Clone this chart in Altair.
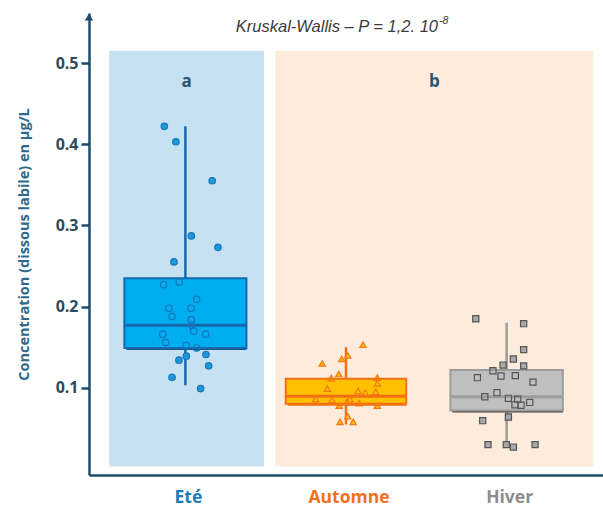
import altair as alt
import pandas as pd

# Seasons (one box per season) and the letters of the Kruskal-Wallis groups
saisons = ["Eté", "Automne", "Hiver"]
groupes = ["a", "b"]
groupe_saisons = [["Eté"], ["Automne", "Hiver"]]

# Individual measurements (µg/L) and their horizontal jitter (in category units)
ete_valeurs = [0.422, 0.403, 0.355, 0.287, 0.273, 0.255, 0.227, 0.230, 0.209, 0.198,
               0.198, 0.188, 0.184, 0.177, 0.170, 0.166, 0.166, 0.156, 0.152, 0.149,
               0.141, 0.134, 0.139, 0.127, 0.113, 0.099]
ete_jitter = [-0.131, -0.059, 0.167, 0.037, 0.203, -0.071, -0.135, -0.038, 0.070, -0.102,
              0.035, -0.083, 0.037, 0.039, 0.052, -0.141, 0.126, -0.123, 0.006, 0.070,
              0.128, -0.040, 0.006, 0.145, -0.083, 0.095]

automne_valeurs = [0.153, 0.140, 0.1355, 0.130, 0.117, 0.112, 0.1125, 0.1055, 0.099, 0.096,
                   0.094, 0.095, 0.086, 0.085, 0.086, 0.082, 0.081, 0.078, 0.078, 0.065,
                   0.058, 0.058]
automne_jitter = [0.106, 0.011, -0.027, -0.148, -0.045, -0.092, 0.195, 0.195, -0.116, 0.075,
                  0.120, 0.185, -0.189, -0.087, 0.025, 0.004, 0.081, -0.042, 0.195, 0.011,
                  -0.037, 0.045]

hiver_valeurs = [0.185, 0.179, 0.147, 0.1355, 0.128, 0.127, 0.121, 0.1145, 0.115, 0.1125,
                 0.107, 0.094, 0.089, 0.087, 0.086, 0.082, 0.079, 0.0785, 0.064, 0.0595,
                 0.030, 0.030, 0.027, 0.030]
hiver_jitter = [-0.192, 0.106, 0.106, 0.042, -0.022, 0.106, -0.085, -0.035, 0.054, -0.182,
                0.164, -0.060, -0.136, 0.011, 0.069, 0.144, 0.052, 0.090, 0.011, -0.149,
                -0.116, -0.002, 0.042, 0.177]

# Box-plot summaries per season
moustache_bas = [0.103, 0.055, 0.026]
quartile_1 = [0.149, 0.0805, 0.072]
mediane = [0.177, 0.0895, 0.089]
quartile_3 = [0.235, 0.111, 0.122]
moustache_haut = [0.422, 0.150, 0.180]

TITRE = "Kruskal-Wallis – P = 1,2. 10"
EXPOSANT = "-8"
TITRE_Y = "Concentration (dissous labile) en µg/L"

# ---- tables -------------------------------------------------------------
rang = {s: i + 1 for i, s in enumerate(saisons)}

pts = []
for s, vals, jit in [("Eté", ete_valeurs, ete_jitter),
                     ("Automne", automne_valeurs, automne_jitter),
                     ("Hiver", hiver_valeurs, hiver_jitter)]:
    for v, j in zip(vals, jit):
        pts.append({"saison": s, "valeur": v, "pos": rang[s] + j})
points = pd.DataFrame(pts)

DEMI_BOITE = {"Eté": 0.38, "Automne": 0.375, "Hiver": 0.35}
boites = pd.DataFrame({
    "saison": saisons,
    "pos": [rang[s] for s in saisons],
    "gauche": [rang[s] - DEMI_BOITE[s] for s in saisons],
    "droite": [rang[s] + DEMI_BOITE[s] for s in saisons],
    "bas": moustache_bas, "q1": quartile_1, "med": mediane,
    "q3": quartile_3, "haut": moustache_haut,
})

# shaded background per significance group
MARGE_G = [0.475, 0.44]
MARGE_D = [0.49, 0.54]
panneaux = pd.DataFrame({
    "groupe": groupes,
    "debut": [rang[g[0]] - MARGE_G[i] for i, g in enumerate(groupe_saisons)],
    "fin": [rang[g[-1]] + MARGE_D[i] for i, g in enumerate(groupe_saisons)],
    "centre": [(rang[g[0]] - MARGE_G[i] + rang[g[-1]] + MARGE_D[i]) / 2
               for i, g in enumerate(groupe_saisons)],
    "y0": [0.003, 0.003], "y1": [0.515, 0.515], "ylettre": [0.477, 0.477],
})

# ---- styles -------------------------------------------------------------
AXE = "#1f4d6b"
POLICE = "Open Sans"
fond_panneau = ["#c6e1f1", "#fdebdc"]
fond_boite = ["#00adef", "#ffc000", "#bfbfbf"]
trait_boite = ["#1769ad", "#f56f12", "#9c9c9c"]
ombre_boite = ["#0e5690", "#f56f12", "#3c3c3c"]
fond_point = ["#1d98d8", "#ffb81c", "#a9a9a9"]
trait_point = ["#1677bb", "#f07a14", "#555555"]
formes = ["circle", "triangle-up", "square"]
tailles = [42, 38, 36]
couleur_label = ["#1a7cc0", "#f4701d", "#8c8c8c"]

xs = alt.Scale(domain=[0.4, 3.6], nice=False, zero=False)
ys = alt.Scale(domain=[-0.0074, 0.5616], nice=False, zero=False)


def X(f):
    return alt.X(f, type="quantitative", scale=xs,
                 axis=alt.Axis(labels=False, ticks=False, grid=False, title=None))


def Y(f):
    return alt.Y(f, type="quantitative", scale=ys,
                 axis=alt.Axis(values=[0.1, 0.2, 0.3, 0.4, 0.5], format=".1f",
                               grid=False, title=TITRE_Y))


def par_saison(canal, valeurs):
    return canal("saison:N", scale=alt.Scale(domain=saisons, range=valeurs), legend=None)


fond = alt.Chart(panneaux).mark_rect().encode(
    x=X("debut"), x2="fin", y=Y("y0"), y2="y1",
    fill=alt.Fill("groupe:N", scale=alt.Scale(domain=groupes, range=fond_panneau), legend=None),
)

lettres = alt.Chart(panneaux).mark_text(
    font=POLICE, fontWeight="bold", fontSize=17, color="#2c5470", baseline="middle"
).encode(x=X("centre"), y=Y("ylettre"), text="groupe:N")

moustaches = alt.Chart(boites).mark_rule(strokeWidth=2.5).encode(
    x=X("pos"), y=Y("bas"), y2="haut", stroke=par_saison(alt.Stroke, trait_boite),
)

points_pleins = alt.Chart(points).mark_point(filled=True, opacity=1).encode(
    x=X("pos"), y=Y("valeur"),
    fill=par_saison(alt.Fill, fond_point),
    shape=par_saison(alt.Shape, formes),
    size=par_saison(alt.Size, tailles),
)

ombres = alt.Chart(boites).mark_rect(xOffset=2, yOffset=2).encode(
    x=X("gauche"), x2="droite", y=Y("q1"), y2="q3",
    fill=par_saison(alt.Fill, ombre_boite),
)

corps = alt.Chart(boites).mark_rect(strokeWidth=2).encode(
    x=X("gauche"), x2="droite", y=Y("q1"), y2="q3",
    fill=par_saison(alt.Fill, fond_boite),
    stroke=par_saison(alt.Stroke, trait_boite),
)

medianes = alt.Chart(boites).mark_rule(strokeWidth=3).encode(
    x=X("gauche"), x2="droite", y=Y("med"),
    stroke=par_saison(alt.Stroke, trait_boite),
)

contours = alt.Chart(points).mark_point(filled=False, strokeWidth=1.2, opacity=1).encode(
    x=X("pos"), y=Y("valeur"),
    stroke=par_saison(alt.Stroke, trait_point),
    shape=par_saison(alt.Shape, formes),
    size=par_saison(alt.Size, tailles),
)

etiquettes = alt.Chart(boites).mark_text(
    font=POLICE, fontWeight="bold", fontSize=17.5, baseline="middle", dx=3
).encode(
    x=X("pos"), y=alt.value(485), text="saison:N",
    fill=par_saison(alt.Fill, couleur_label),
)

titre = alt.Chart(pd.DataFrame({"t": [TITRE]})).mark_text(
    font="Liberation Sans", fontStyle="italic", fontSize=16.5, color="#3a3a3a",
    align="right", baseline="middle"
).encode(x=alt.value(349), y=alt.value(14), text="t:N")

exposant = alt.Chart(pd.DataFrame({"t": [EXPOSANT]})).mark_text(
    font="Liberation Sans", fontStyle="italic", fontSize=10.5, color="#3a3a3a",
    align="left", baseline="middle"
).encode(x=alt.value(350), y=alt.value(8), text="t:N")

fleche = alt.Chart(pd.DataFrame({"f": [1]})).mark_point(
    shape="triangle-up", filled=True, size=70, color=AXE, opacity=1
).encode(x=alt.value(0), y=alt.value(4))

chart = alt.layer(
    fond, lettres, moustaches, points_pleins, ombres, corps, medianes, contours,
    etiquettes, titre, exposant, fleche,
).resolve_scale(
    fill="independent", stroke="independent", shape="independent", size="independent"
).properties(
    width=514, height=462,
    autosize=alt.AutoSizeParams(type="none"),
    padding={"left": 89, "top": 13, "right": 0, "bottom": 32},
    background="white",
).configure_view(stroke=None).configure_axis(
    domainColor=AXE, domainWidth=2.5, tickColor=AXE, tickWidth=2.5,
).configure_axisY(
    tickSize=8, labelFont=POLICE, labelFontWeight="bold", labelFontSize=16,
    labelColor="#2d4a5e", labelPadding=3, titleFont=POLICE, titleFontWeight="bold",
    titleFontSize=14.5, titleColor="#2c6a8e", titlePadding=24,
)

chart.save("out.html", embed_options={"renderer": "svg", "actions": False})
